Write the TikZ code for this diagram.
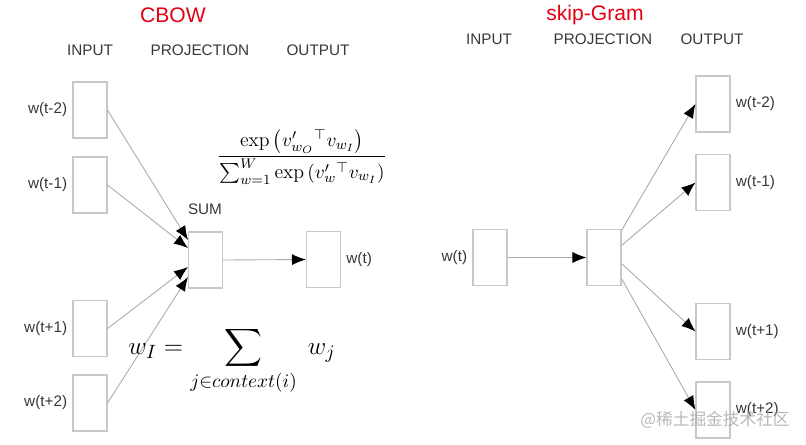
\documentclass[tikz,border=0pt]{standalone}
\usepackage{amsmath}
\usepackage{amssymb}
\usepackage{fontspec}
\setsansfont{Liberation Sans}
\newfontfamily\cjkfont{Noto Sans CJK SC}
\usetikzlibrary{arrows.meta}
\usetikzlibrary{calc}
\definecolor{boxgray}{RGB}{200,200,200}
\definecolor{linegray}{RGB}{170,170,170}
\definecolor{textgray}{RGB}{55,55,55}
\definecolor{titlered}{RGB}{228,0,18}
\tikzset{
	wordbox/.style={shape=rectangle,draw=boxgray,line width=0.6pt,minimum width=0.68cm,minimum height=1.12cm,inner sep=0pt},
	lbl/.style={text=textgray,font=\sffamily\fontsize{8.7}{10}\selectfont,inner sep=0pt},
	titlelbl/.style={text=titlered,font=\sffamily\fontsize{12}{14}\selectfont,inner sep=0pt},
	conn/.style={draw=linegray,line width=0.5pt,-{Latex[length=2.8mm,width=2.2mm,color=black]}}
}
% box with its word label beside it (#4 = left or right)
\newcommand{\drawwordbox}[5]{
	\draw #1 node (#2) [wordbox] {};
	\draw (#2.#5) node (#2l) [lbl,#4=1mm] {#3};
}

\begin{document}
\begin{tikzpicture}[x=0.02cm,y=-0.02cm]
	\useasboundingbox (0,0) rectangle (806,444);
	% CBOW
	\draw (173,15) node (cbow) [titlelbl] {CBOW};
	\draw (90,50) node (inA) [lbl] {INPUT} (200,50) node (projA) [lbl] {PROJECTION} (318,50) node (outA) [lbl] {OUTPUT};
	\drawwordbox{(90,110)}{a1}{w(t-2)}{left}{west};
	\drawwordbox{(90,185)}{a2}{w(t-1)}{left}{west};
	\drawwordbox{(90,328.5)}{a3}{w(t+1)}{left}{west};
	\drawwordbox{(90,403)}{a4}{w(t+2)}{left}{west};
	\draw (205.5,260) node (sum) [wordbox] {};
	\draw (205,209) node (suml) [lbl] {SUM};
	\drawwordbox{(323.5,259.5)}{aout}{w(t)}{right}{east};
	\draw [conn] (a1.east) -- ([yshift=0.4cm]sum.west);
	\draw [conn] (a2.east) -- ([yshift=0.24cm]sum.west);
	\draw [conn] (a3.east) -- ([yshift=-0.14cm]sum.west);
	\draw [conn] (a4.east) -- ([yshift=-0.34cm]sum.west);
	\draw [conn] (sum.east) -- (aout.west);
	\draw (302,157) node (softmax) [font=\fontsize{11.3}{13}\selectfont] {$\displaystyle\frac{\exp\left(v'_{w_O}{}^{\top} v_{w_I}\right)}{\sum_{w=1}^{W}\exp\left(v'_{w}{}^{\top} v_{w_I}\right)}$};
	\draw (232,361) node (wsum) [font=\fontsize{15}{17}\selectfont] {$\displaystyle w_I=\sum_{j\in context(i)}\; w_j$};
	% skip-Gram
	\draw (595,15) node (skip) [titlelbl] {skip-Gram};
	\draw (489,39) node (inB) [lbl] {INPUT} (603,39) node (projB) [lbl] {PROJECTION} (712,39) node (outB) [lbl] {OUTPUT};
	\drawwordbox{(490,257.5)}{bin}{w(t)}{left}{west};
	\draw (604,257.5) node (proj) [wordbox] {};
	\drawwordbox{(713,104)}{b1}{w(t-2)}{right}{east};
	\drawwordbox{(713,182.5)}{b2}{w(t-1)}{right}{east};
	\drawwordbox{(713,331.5)}{b3}{w(t+1)}{right}{east};
	\drawwordbox{(713,410)}{b4}{w(t+2)}{right}{east};
	\draw [conn] (bin.east) -- (proj.west);
	\draw [conn] ([yshift=0.54cm]proj.east) -- (b1.west);
	\draw [conn] ([yshift=0.24cm]proj.east) -- (b2.west);
	\draw [conn] ([yshift=-0.12cm]proj.east) -- (b3.west);
	\draw [conn] ([yshift=-0.42cm]proj.east) -- (b4.west);
	\draw (715,420) node (mark) [text=gray!70,opacity=0.8,font=\cjkfont\fontsize{9.5}{11}\selectfont] {@稀土掘金技术社区};
\end{tikzpicture}
\end{document}
